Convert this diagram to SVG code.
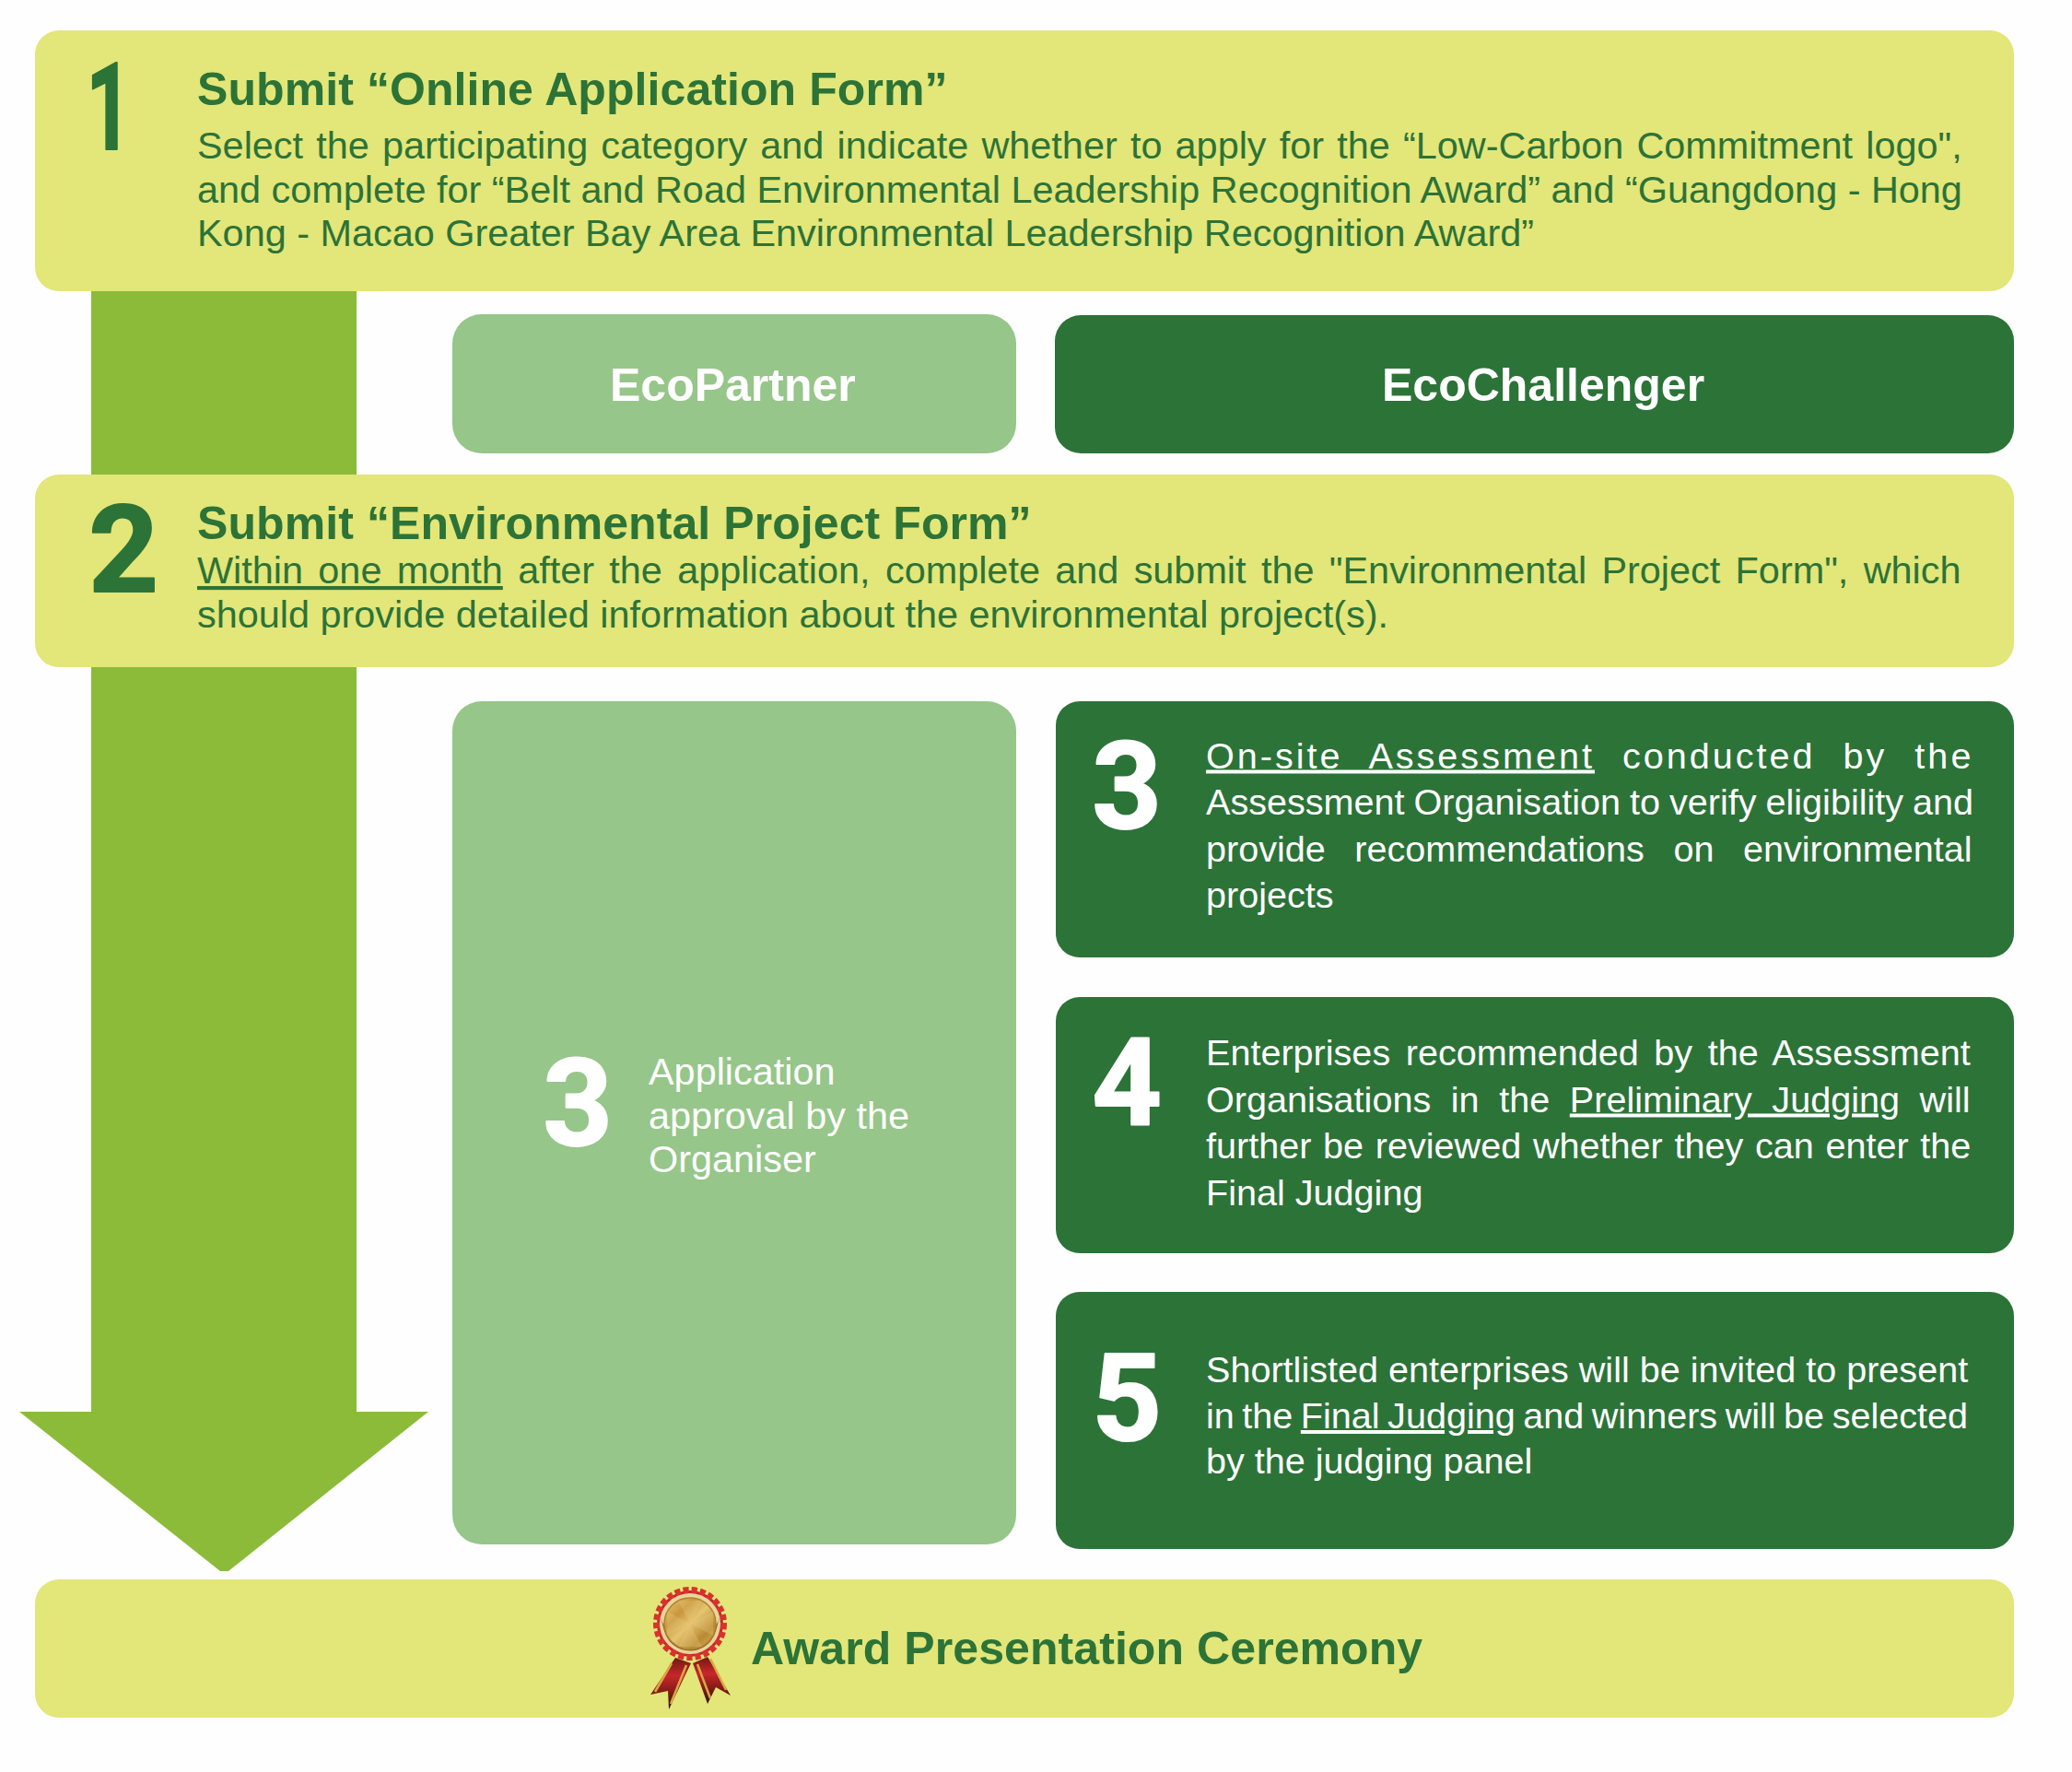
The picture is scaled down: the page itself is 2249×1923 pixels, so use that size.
<svg xmlns="http://www.w3.org/2000/svg" width="2249" height="1923" viewBox="0 0 2249 1923">
<style>
text{font-family:"Liberation Sans",Arial,sans-serif}
.y{fill:#E3E678}.l{fill:#96C689}.d{fill:#2C7338}
.h{font-size:50px;font-weight:700;fill:#2C7338;letter-spacing:.08px}
.hw{font-size:50px;font-weight:700;fill:#fff}
.b{font-size:41.4px;fill:#2C7338}
.w{font-size:39.6px;fill:#fff}
.a{font-size:41.4px;fill:#fff}
.n{font-family:Roboto,"Liberation Sans",sans-serif;font-size:132px;font-weight:700;text-anchor:middle;stroke-width:2px;stroke-linejoin:round}
.ng{fill:#2C7338;stroke:#2C7338}.nw{fill:#fff;stroke:#fff}
.u{text-decoration:underline}
</style>
<defs>
<linearGradient id="gold" x1="0" y1="0" x2="1" y2="1"><stop offset="0" stop-color="#E9C978"/><stop offset=".3" stop-color="#C9973C"/><stop offset=".5" stop-color="#E6C470"/><stop offset=".75" stop-color="#B98A34"/><stop offset="1" stop-color="#DDB65C"/></linearGradient>
<linearGradient id="rib" x1="0" y1="0" x2="0" y2="1"><stop offset="0" stop-color="#6E1A12"/><stop offset=".35" stop-color="#C8272B"/><stop offset=".7" stop-color="#7A1A14"/><stop offset="1" stop-color="#2A120C"/></linearGradient>
</defs>
<rect width="2249" height="1923" fill="#fefefe"/>
<g id="connectors">
<polygon id="flow-arrow" points="99,300 387,300 387,1532 465,1532 248,1705 239,1705 21,1532 99,1532" fill="#8CBB3A"/>
</g>
<g id="step1">
<rect class="y" x="38" y="33" width="2148" height="283" rx="26"/>
<text class="n ng" transform="translate(118 162) scale(.65 1)">1</text>
<text class="h" x="214" y="114">Submit “Online Application Form”</text>
<text class="b" x="214" y="172" word-spacing="2.7">Select the participating category and indicate whether to apply for the “Low-Carbon Commitment logo",</text>
<text class="b" x="214" y="220">and complete for “Belt and Road Environmental Leadership Recognition Award” and “Guangdong - Hong</text>
<text class="b" x="214" y="267">Kong - Macao Greater Bay Area Environmental Leadership Recognition Award”</text>
</g>
<g id="ecopartner">
<rect class="l" x="491" y="341" width="612" height="151" rx="32"/>
<text class="hw" x="662" y="435">EcoPartner</text>
</g>
<g id="ecochallenger">
<rect class="d" x="1145" y="342" width="1041" height="150" rx="28"/>
<text class="hw" x="1500" y="435">EcoChallenger</text>
</g>
<g id="step2">
<rect class="y" x="38" y="515" width="2148" height="209" rx="26"/>
<text class="n ng" x="134" y="642">2</text>
<text class="h" x="214" y="585">Submit “Environmental Project Form”</text>
<text class="b" x="214" y="633" word-spacing="4.85"><tspan class="u">Within one month</tspan> after the application, complete and submit the "Environmental Project Form", which</text>
<text class="b" x="214" y="681">should provide detailed information about the environmental project(s).</text>
</g>
<g id="approval">
<rect class="l" x="491" y="761" width="612" height="915" rx="32"/>
<text class="n nw" x="627" y="1243">3</text>
<text class="a" x="704" y="1177">Application</text>
<text class="a" x="704" y="1225">approval by the</text>
<text class="a" x="704" y="1272">Organiser</text>
</g>
<g id="step3">
<rect class="d" x="1146" y="761" width="1040" height="278" rx="26"/>
<text class="n nw" x="1223" y="899">3</text>
<text class="w" x="1309" y="833.5" letter-spacing="3" word-spacing="16"><tspan class="u">On-site Assessment</tspan> conducted by the</text>
<text class="w" x="1309" y="884" word-spacing="-1">Assessment Organisation to verify eligibility and</text>
<text class="w" x="1309" y="934.5" word-spacing="20.5">provide recommendations on environmental</text>
<text class="w" x="1309" y="985">projects</text>
</g>
<g id="step4">
<rect class="d" x="1146" y="1082" width="1040" height="278" rx="26"/>
<text class="n nw" x="1223" y="1220">4</text>
<text class="w" x="1309" y="1156" word-spacing="5.6">Enterprises recommended by the Assessment</text>
<text class="w" x="1309" y="1206.5" word-spacing="10.6">Organisations in the <tspan class="u">Preliminary Judging</tspan> will</text>
<text class="w" x="1309" y="1257" word-spacing="1.7">further be reviewed whether they can enter the</text>
<text class="w" x="1309" y="1308">Final Judging</text>
</g>
<g id="step5">
<rect class="d" x="1146" y="1402" width="1040" height="279" rx="26"/>
<text class="n nw" x="1223" y="1563">5</text>
<text class="w" x="1309" y="1500">Shortlisted enterprises will be invited to present</text>
<text class="w" x="1309" y="1550" word-spacing="-2.5">in the <tspan class="u">Final Judging</tspan> and winners will be selected</text>
<text class="w" x="1309" y="1599">by the judging panel</text>
</g>
<g id="award">
<rect class="y" x="38" y="1714" width="2148" height="150" rx="26"/>
<g id="medal">
<polygon points="733,1799 750,1805 726,1855 725,1835 706,1839" fill="url(#rib)"/>
<polygon points="752,1805 768,1798 793,1840 777,1831 768,1849" fill="url(#rib)"/>
<path d="M729,1805 711,1836M745,1807 728,1849M757,1806 771,1843M771,1800 788,1834" stroke="#D9A845" stroke-width="2.5" fill="none"/>
<circle cx="749" cy="1762" r="36" fill="#C8272B" stroke="#D8322F" stroke-width="8" stroke-dasharray="6 3"/>
<circle cx="749" cy="1762" r="33" fill="#E9D49A"/>
<path d="M717,1755A33,33 0 0,0 781,1755L777,1770A29,29 0 0,1 721,1770Z" fill="#7A5A28"/>
<circle cx="749" cy="1762" r="28" fill="url(#gold)" stroke="#B0822E" stroke-width="1.5"/>
<path d="M749,1762 736,1737 762,1737ZM749,1762 736,1787 762,1787ZM749,1762 724,1749 724,1775ZM749,1762 774,1749 774,1775Z" fill="#EBCD84" opacity=".28"/>
</g>
<text class="h" x="815" y="1806">Award Presentation Ceremony</text>
</g>
</svg>
